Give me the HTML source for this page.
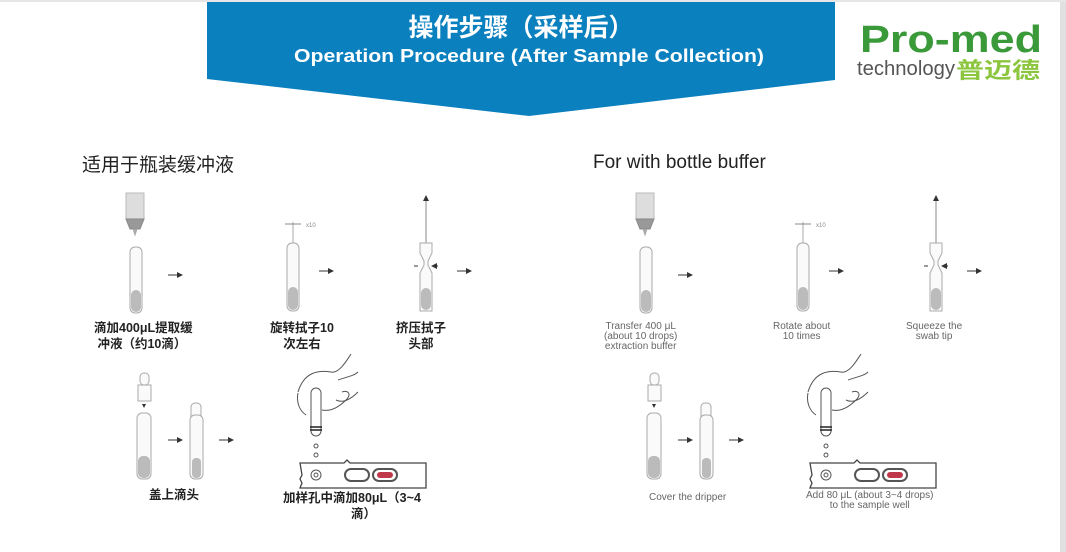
<!DOCTYPE html>
<html><head><meta charset="utf-8"><style>
html,body{margin:0;padding:0}
body{width:1066px;height:552px;position:relative;background:#fff;overflow:hidden;font-family:"Liberation Sans","Noto Sans CJK SC",sans-serif}
.t{position:absolute;white-space:nowrap}
.cn{font-weight:bold;font-size:12.5px;color:#222;text-align:center;line-height:16px}
.en{font-size:10px;color:#666;text-align:center;line-height:10px}
</style></head><body>
<div style="position:absolute;right:0;top:0;width:6px;height:552px;background:#e0e0e0"></div>
<div style="position:absolute;left:0;top:0;width:1066px;height:2px;background:#e6e6e6"></div>
<svg width="1066" height="552" style="position:absolute;left:0;top:0">
<defs>
<marker id="ah" markerWidth="6" markerHeight="6" refX="3" refY="3" orient="auto"><path d="M0,0L6,3L0,6z" fill="#333"/></marker>
<g id="set" stroke="#aaa" fill="none" stroke-width="1">
 <rect x="126" y="193" width="18" height="26" fill="#ddd" stroke="#bbb"/>
 <path d="M126,219h18l-4,10h-10z" fill="#999" stroke="#888"/>
 <path d="M133,229l2,6l2,-6" fill="#aaa"/>
 <rect x="130" y="247" width="12" height="66" rx="5" fill="#fafafa"/>
 <rect x="131" y="290" width="10" height="22" rx="5" fill="#bbb" stroke="none"/>
 <path d="M168,275h12" stroke="#333" marker-end="url(#ah)"/>
 <line x1="293" y1="222" x2="293" y2="245"/>
 <path d="M285,224h16" stroke="#888"/><text x="306" y="227" font-size="6" fill="#888" stroke="none">x10</text>
 <rect x="287" y="243" width="12" height="68" rx="5" fill="#fafafa"/>
 <rect x="288" y="287" width="10" height="23" rx="5" fill="#bbb" stroke="none"/>
 <path d="M319,271h12" stroke="#333" marker-end="url(#ah)"/>
 <line x1="426" y1="198" x2="426" y2="262" stroke="#888"/>
 <path d="M423,201l3,-6l3,6z" fill="#333" stroke="none"/>
 <path d="M420,243h12v10l-4,8v4l4,8v38h-12v-38l4,-8v-4l-4,-8z" fill="#fafafa"/>
 <rect x="421" y="288" width="10" height="22" rx="5" fill="#bbb" stroke="none"/>
 <path d="M414,266h4M438,266h-4" stroke="#333" marker-end="url(#ah)"/>
 <path d="M457,271h12" stroke="#333" marker-end="url(#ah)"/>
 <rect x="140" y="373" width="9" height="12" rx="4" fill="#fafafa"/>
 <rect x="138" y="385" width="13" height="16" fill="#fafafa"/>
 <path d="M142,404l2,4l2,-4z" fill="#333" stroke="none"/>
 <rect x="137" y="413" width="14" height="66" rx="5" fill="#fafafa"/>
 <rect x="138" y="456" width="12" height="22" rx="5" fill="#bbb" stroke="none"/>
 <path d="M168,440h12" stroke="#333" marker-end="url(#ah)"/>
 <rect x="191" y="403" width="10" height="20" rx="4" fill="#fafafa"/>
 <rect x="190" y="415" width="13" height="64" rx="5" fill="#fafafa"/>
 <rect x="192" y="458" width="9" height="20" rx="4" fill="#bbb" stroke="none"/>
 <path d="M219,440h12" stroke="#333" marker-end="url(#ah)"/>
 <g stroke="#555">
 <path d="M311,431v-38a5,5 0 0 1 10,0v38a5,5 0 0 1 -10,0z" fill="#fff"/>
 <path d="M310,427h12M310,430h12" stroke="#222" stroke-width="1.5"/>
 <path d="M298,392c6,-20 20,-22 33,-20c8,2 16,-12 20,-18M338,380c8,-3 16,-4 20,-8M306,415c-6,-4 -10,-12 -8,-22M322,410c10,2 18,-4 24,-10c6,-6 2,-10 -4,-8M336,400c8,4 16,-2 22,-8"/>
 <circle cx="316" cy="446" r="2"/><circle cx="316" cy="455" r="2"/>
 <path d="M300,463h44l3,-3l3,3h76v25h-126l2,-5l-2,-4l2,-4z" fill="#fff" stroke="#444" stroke-width="1.3"/>
 <circle cx="316" cy="475" r="5"/><circle cx="316" cy="475" r="2"/>
 <rect x="345" y="469" width="24" height="12" rx="6" stroke-width="2"/>
 <rect x="373" y="469" width="24" height="12" rx="6" stroke-width="2"/>
 <rect x="377" y="472" width="16" height="6" rx="3" fill="#c0394b" stroke="none"/>
 </g>
</g>
</defs>
<polygon points="207,2 835,2 835,80 529,116 207,79" fill="#0a80bf"/>
<text x="521" y="36" font-size="25" font-weight="bold" fill="#fff" text-anchor="middle" font-family="Noto Sans CJK SC,sans-serif">操作步骤（采样后）</text>
<text x="529" y="62" font-size="18" font-weight="bold" fill="#fff" text-anchor="middle" font-family="Liberation Sans,sans-serif" textLength="470" lengthAdjust="spacingAndGlyphs">Operation Procedure (After Sample Collection)</text>
<text x="860" y="52" font-size="38" fill="#3a9a3a" font-family="Liberation Sans,sans-serif" font-weight="bold" textLength="182" lengthAdjust="spacingAndGlyphs">Pro-med</text>
<text x="857" y="75" font-size="20" fill="#555" font-family="Liberation Sans,sans-serif" textLength="98" lengthAdjust="spacingAndGlyphs">technology</text>
<text x="956" y="78" font-size="22" fill="#8cc63f" font-weight="bold" font-family="Noto Sans CJK SC,sans-serif" textLength="84" lengthAdjust="spacingAndGlyphs">普迈德</text>
<use href="#set"/>
<use href="#set" x="510"/>
</svg>
<div class="t" style="left:82px;top:150px;font-size:19px;color:#222;font-family:'Noto Sans CJK SC',sans-serif">适用于瓶装缓冲液</div>
<div class="t" style="left:593px;top:152px;font-size:19px;color:#222">For with bottle buffer</div>
<div class="t cn" style="left:94px;top:320px;text-align:left">滴加400μL提取缓<br>&nbsp;冲液（约10滴）</div>
<div class="t cn" style="left:270px;top:320px">旋转拭子10<br>次左右</div>
<div class="t cn" style="left:396px;top:320px">挤压拭子<br>头部</div>
<div class="t cn" style="left:149px;top:487px">盖上滴头</div>
<div class="t cn" style="left:283px;top:490px;text-align:left">加样孔中滴加80μL（3~4<br><span style="padding-left:68px">滴）</span></div>
<div class="t en" style="left:604px;top:322px">Transfer 400 μL<br>(about 10 drops)<br>extraction buffer</div>
<div class="t en" style="left:773px;top:322px">Rotate about<br>10 times</div>
<div class="t en" style="left:906px;top:322px">Squeeze the<br>swab tip</div>
<div class="t en" style="left:649px;top:493px">Cover the dripper</div>
<div class="t en" style="left:806px;top:491px">Add 80 μL (about 3~4 drops)<br>to the sample well</div>
</body></html>
